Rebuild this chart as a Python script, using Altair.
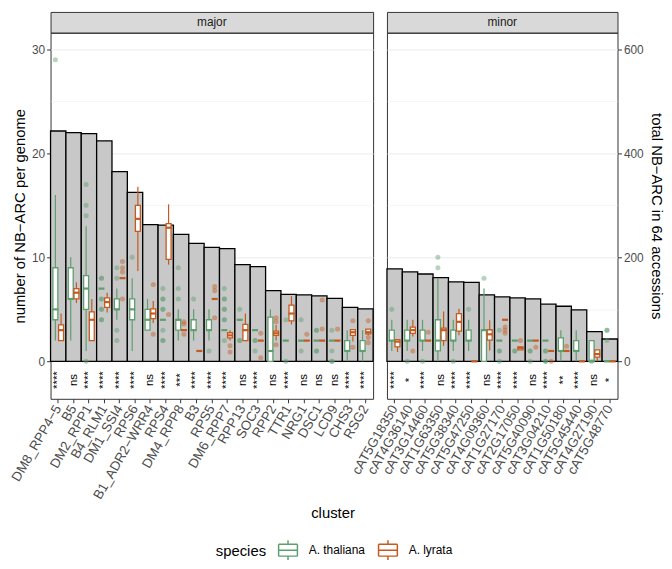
import altair as alt
import pandas as pd

SPECIES = ["A. thaliana", "A. lyrata"]
COLORS = ["#5E9E6F", "#C45A1E"]

MAJOR_CLUSTERS = ["DM8_RPP4−5", "B5", "DM2_RPP1", "B4_RLM1", "DM1_SSI4", "RPS6",
                  "B1_ADR2−WRR4", "RPS4", "DM4_RPP8", "B3", "RPS5", "DM6_RPP7",
                  "RPP13", "SOC3", "RPP2", "TTR1", "NRG1", "DSC1", "LCD9", "CHS3", "RSG2"]
MAJOR_TOTALS = [443, 440, 438, 424, 365, 325, 263, 262, 244, 227, 219, 217,
                186, 182, 136, 129, 128, 126, 121, 104, 101]
MAJOR_SIG = ["****", "ns", "****", "****", "****", "****", "ns", "****", "***", "****",
             "****", "****", "ns", "****", "ns", "****", "ns", "ns", "ns", "****", "****"]
# [lower whisker, q1, median, q3, upper whisker]
MAJOR_THALIANA_BOX = [
    [2, 4, 5, 9, 16], [2, 6, 6, 9, 10], [1, 5, 7, 8.25, 13], [7, 7, 7, 7, 7],
    [4, 5, 5, 6, 7], [1, 4, 5, 6, 8], [3, 3, 4, 5, 6], [4, 4, 4, 4, 4],
    [2, 3, 4, 4, 5], [2, 3, 3, 4, 5], [2, 3, 3, 4, 5], [3, 3, 3, 3, 3],
    [4, 4, 4, 4, 4], [3, 3, 3, 3, 3], [0, 0, 1, 4.25, 5], [2, 2, 2, 2, 2],
    [2, 2, 2, 2, 2], [2, 2, 2, 2, 2], [2, 2, 2, 2, 2], [0, 1, 1, 2, 3], [0, 1, 1, 2, 3]]
MAJOR_LYRATA_BOX = [
    [2, 2, 3, 3.5, 4.6], [5.6, 6, 6.6, 7, 7.6], [2, 2, 4, 4.75, 6], [4.7, 5.2, 5.7, 6.1, 6.6],
    [8, 8, 8, 8, 8], [8.7, 12.5, 13.7, 15, 16.8], [3.7, 4.1, 4.6, 5.05, 5.8],
    [9.3, 9.8, 12.85, 13.25, 15.1], [3, 3, 3, 3, 3], [1, 1, 1, 1, 1], [6, 6, 6, 6, 6],
    [2, 2.25, 2.5, 2.75, 3], [2, 2, 3, 3.55, 4.6], [2, 2, 2, 2, 2], [2, 2.5, 2.7, 2.9, 3.5],
    [3.55, 3.9, 4.6, 5.4, 6.27], [2, 2, 2, 2, 2], [2, 2, 2, 2, 2], [2, 2, 2, 2, 2],
    [1.9, 2.5, 2.8, 3.05, 3.05], [2.5, 2.65, 2.8, 3.1, 3.1]]
MAJOR_THALIANA_OUT = [
    [29], [], [17, 15, 14, 0], [8, 8, 6, 6, 5, 5, 4, 4], [9, 8, 3, 2], [10], [],
    [7, 6, 6, 5, 5, 3, 2, 2], [9, 7, 6], [6], [1], [7, 6, 6, 5, 5, 4, 4, 2],
    [5, 2, 2], [2, 2, 1], [], [4, 0], [4, 1], [3, 3, 1, 1], [3, 1, 0, 0], [], []]
MAJOR_LYRATA_OUT = [
    [], [], [], [], [9.6, 9.0, 8.6, 6], [], [7.4, 2.6], [4.5], [3.8, 3.6, 2.6], [],
    [7.2, 6.8, 4.2], [1.5, 0.9], [], [2.7, 0.35], [4.2, 3.8, 1.6], [], [2.6],
    [5.9, 3.1], [3.1], [3.9, 1.35], [3.9, 2.3, 1.8]]

MINOR_CLUSTERS = ["cAT5G18350", "cAT4G36140", "cAT3G14460", "cAT1G63350", "cAT5G38340",
                  "cAT5G47250", "cAT4G09360", "cAT1G27170", "cAT2G17050", "cAT5G40090",
                  "cAT3G04210", "cAT1G50180", "cAT5G45440", "cAT4G27190", "cAT5G48770"]
MINOR_TOTALS = [178, 172, 168, 161, 153, 152, 128, 124, 122, 120, 110, 106, 99, 57, 43]
MINOR_SIG = ["****", "*", "****", "ns", "****", "****", "ns", "****", "****", "ns",
             "****", "**", "****", "ns", "*"]
MINOR_THALIANA_BOX = [
    [1, 2, 2, 3, 4], [1, 2, 2, 3, 4], [1, 2, 2, 3, 4], [0, 1, 2, 4, 8], [1, 2, 2, 3, 4],
    [1, 2, 2, 3, 4], [0, 0, 3, 3, 7], [2, 2, 2, 2, 2], [2, 2, 2, 2, 2], [2, 2, 2, 2, 2],
    [2, 2, 2, 2, 2], [0, 1, 1, 2.25, 3], [0, 1, 1, 2, 3], [0, 0, 0, 2, 2], [0, 0, 0, 0, 0]]
MINOR_LYRATA_BOX = [
    [0.9, 1.4, 1.9, 2.1, 2.1], [2.4, 2.7, 3.0, 3.3, 4.0], [2, 2, 2, 2, 2],
    [1.5, 2, 3, 3.2, 4.8], [2.5, 2.9, 3.8, 4.6, 5.05], [0, 0, 0, 0, 0],
    [1.04, 2.04, 2.6, 3.04, 3.95], [4, 4, 4, 4, 4], [1.1, 1.1, 1.3, 1.4, 1.4],
    [2, 2, 2, 2, 2], [1, 1, 1, 1, 1], [1, 1, 1, 1, 1], [0, 0, 0, 0, 0],
    [0, 0.4, 0.7, 1.1, 1.1], [0, 0, 0, 0, 0]]
MINOR_THALIANA_OUT = [
    [5], [0], [0], [10, 9], [0], [5], [8], [3, 1, 1, 0], [1, 1], [1, 1, 0],
    [1, 1, 0, 0], [], [], [0], [3, 3, 2]]
MINOR_LYRATA_OUT = [
    [], [1.0], [2.8], [], [], [], [], [3.3, 3.0, 2.7], [2.0], [1.35], [0], [1.45],
    [], [], []]

Y_GRID = [0, 5, 10, 15, 20, 25, 30]
TOTAL_TICKS = [0, 200, 400, 600]
Y_DOMAIN = [-3.6, 31.6]
TOTAL_PER_UNIT = 20
SIG_Y = -1.8

FONT = "Liberation Sans"
# box glyph made of separate line segments (no enclosed area)
BOX_PATH = ("M-0.95,-0.6H0.95 M0.95,-0.6V0.6 M0.95,0.6H-0.95 M-0.95,0.6V-0.6 "
            "M-0.95,0H0.95 M0,-0.6V-1 M0,0.6V1")

LEGEND = alt.Legend(orient="none", legendX=167, legendY=533, direction="horizontal",
                    titleOrient="left", symbolType=BOX_PATH, symbolSize=400,
                    symbolStrokeWidth=1.5, labelFontSize=12, titleFontSize=15,
                    titleFontWeight="normal", titleColor="black", labelColor="black",
                    columnPadding=10, labelOffset=10, titlePadding=11)

color_scale = alt.Scale(domain=SPECIES, range=COLORS)
is10 = "datum.value % 10 == 0"


def panel(name, clusters, totals, sig, bt, bl, ot, ol, width, is_major):
    df_bar = pd.DataFrame({"cluster": clusters, "total": totals})
    rows, prow = [], []
    for sp, boxes, outs in ((SPECIES[0], bt, ot), (SPECIES[1], bl, ol)):
        for c, b, o in zip(clusters, boxes, outs):
            rows.append(dict(cluster=c, species=sp, lower=b[0], q1=b[1],
                             median=b[2], q3=b[3], upper=b[4]))
            for v in o:
                prow.append(dict(cluster=c, species=sp, value=v))
    df_box = pd.DataFrame(rows)
    df_pt = pd.DataFrame(prow)
    df_sig = pd.DataFrame({"cluster": clusters, "sig": sig, "y": [SIG_Y] * len(clusters)})

    xaxis_kw = dict(labelAngle=-60, labelAlign="right", labelBaseline="middle",
                    labelFontSize=13.5, labelColor="#4D4D4D", tickColor="#333333",
                    tickSize=4, grid=False, domain=False, labelPadding=3,
                    titleFontSize=15, titleFontWeight="normal", titleColor="black")
    if is_major:
        xaxis_kw["titleX"] = 285
    xenc = alt.X("cluster:N", sort=clusters,
                 scale=alt.Scale(paddingInner=0, paddingOuter=0),
                 axis=alt.Axis(**xaxis_kw),
                 title="cluster" if is_major else None)
    xoff = alt.XOffset("species:N", sort=SPECIES,
                       scale=alt.Scale(domain=SPECIES, paddingOuter=0.35, paddingInner=0))

    grid_kw = dict(values=Y_GRID, grid=True, gridColor="#EBEBEB",
                   gridWidth={"condition": {"test": is10, "value": 1.0}, "value": 0.5},
                   domain=False)
    if is_major:
        yaxis = alt.Axis(labelExpr=f"{is10} ? datum.label : ''",
                         tickOpacity={"condition": {"test": is10, "value": 1}, "value": 0},
                         tickColor="#333333", tickSize=4, labelFontSize=12,
                         labelColor="#4D4D4D", titleFontSize=15, titleFontWeight="normal",
                         titleColor="black", titlePadding=4, **grid_kw)
        ytitle = "number of NB−ARC per genome"
    else:
        yaxis = alt.Axis(labels=False, ticks=False, minExtent=0, **grid_kw)
        ytitle = None
    yscale = alt.Scale(domain=Y_DOMAIN, nice=False, zero=False)

    if is_major:
        tot_axis = None
        tot_title = None
    else:
        tot_axis = alt.Axis(orient="right", values=TOTAL_TICKS, grid=False, domain=False,
                            tickColor="#333333", tickSize=4, labelFontSize=12,
                            labelColor="#4D4D4D", titleFontSize=15,
                            titleFontWeight="normal", titleColor="black", titlePadding=5)
        tot_title = "total NB−ARC in 64 accessions"

    bars = alt.Chart(df_bar).mark_bar(fill="#C8C8C8", stroke="black", strokeWidth=1.3).encode(
        x=xenc,
        y=alt.Y("total:Q", title=tot_title, axis=tot_axis,
                scale=alt.Scale(domain=[Y_DOMAIN[0] * TOTAL_PER_UNIT, Y_DOMAIN[1] * TOTAL_PER_UNIT],
                                nice=False, zero=False)),
    )

    color = alt.Color("species:N", scale=color_scale, legend=LEGEND)
    whisk = alt.Chart(df_box).mark_rule(strokeWidth=1.2).encode(
        x=xenc, xOffset=xoff,
        y=alt.Y("lower:Q", scale=yscale, axis=yaxis, title=ytitle),
        y2="upper:Q", color=color)
    boxfill = alt.Chart(df_box).mark_bar(size=5, fill="white").encode(
        x=xenc, xOffset=xoff,
        y=alt.Y("q1:Q", scale=yscale, axis=yaxis, title=ytitle),
        y2="q3:Q")
    box = alt.Chart(df_box).mark_bar(size=5, filled=False, strokeWidth=1.3).encode(
        x=xenc, xOffset=xoff,
        y=alt.Y("q1:Q", scale=yscale, axis=yaxis, title=ytitle),
        y2="q3:Q", color=color)
    med = alt.Chart(df_box).mark_tick(thickness=2.2, size=6, opacity=1).encode(
        x=xenc, xOffset=xoff,
        y=alt.Y("median:Q", scale=yscale, axis=yaxis, title=ytitle),
        color=color)
    pts = alt.Chart(df_pt).mark_circle(size=26, opacity=0.45).encode(
        x=xenc, xOffset=xoff,
        y=alt.Y("value:Q", scale=yscale, axis=yaxis, title=ytitle),
        color=color)
    txt = alt.Chart(df_sig).mark_text(angle=270, fontSize=11.5, color="black",
                                      align="center", baseline="middle").encode(
        x=xenc,
        y=alt.Y("y:Q", scale=yscale, axis=yaxis, title=ytitle),
        text="sig:N")

    inner = alt.layer(whisk, boxfill, box, med, pts, txt)
    main = alt.layer(bars, inner).resolve_scale(y="independent").properties(
        width=width, height=370)

    strip = alt.Chart(pd.DataFrame({"panel": [name]})).mark_text(
        fontSize=12, color="#1A1A1A").encode(text="panel:N").properties(
        width=width, height=21,
        view=alt.ViewBackground(fill="#D9D9D9", stroke="#333333"))
    return alt.vconcat(strip, main, spacing=0, bounds="flush")


left = panel("major", MAJOR_CLUSTERS, MAJOR_TOTALS, MAJOR_SIG, MAJOR_THALIANA_BOX,
             MAJOR_LYRATA_BOX, MAJOR_THALIANA_OUT, MAJOR_LYRATA_OUT, 326, True)
right = panel("minor", MINOR_CLUSTERS, MINOR_TOTALS, MINOR_SIG, MINOR_THALIANA_BOX,
              MINOR_LYRATA_BOX, MINOR_THALIANA_OUT, MINOR_LYRATA_OUT, 233, False)

chart = alt.hconcat(left, right, spacing=-27).properties(
    padding={"left": 0, "top": 0, "right": 0, "bottom": 0}
).configure(font=FONT).configure_view(stroke="#333333", strokeWidth=1)

chart.save("out.html", embed_options={"renderer": "svg", "actions": False})
